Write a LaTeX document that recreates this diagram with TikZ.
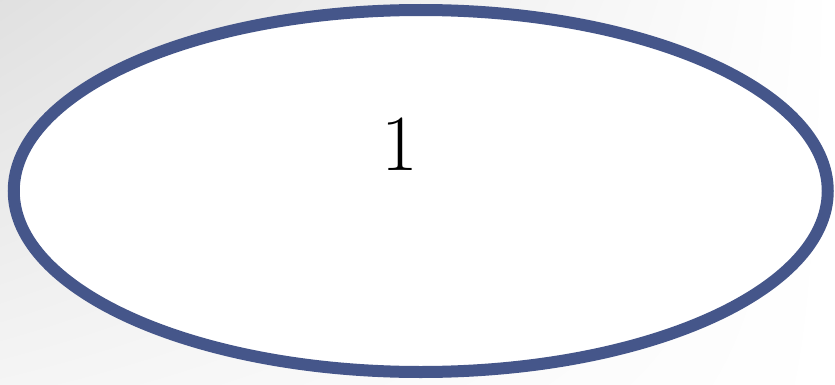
\documentclass[tikz,border=0pt]{standalone}
\usetikzlibrary{shadings}
\definecolor{ringblue}{HTML}{45568A}
\tikzset{
  bignum/.style={font=\fontsize{80}{80}\selectfont, text=black, inner sep=0pt}
}
\begin{document}
\begin{tikzpicture}[x=1bp,y=1bp]
  \useasboundingbox (0,0) rectangle (835,384);
  \shade[upper left=black!12, upper right=white, lower left=black!4, lower right=white] (0,0) rectangle (835,384);
  \draw[draw=ringblue, line width=12bp, fill=white] (420.75,193) ellipse [x radius=407, y radius=181];
  \node[bignum] (one) at (400,240) {1};
\end{tikzpicture}
\end{document}
